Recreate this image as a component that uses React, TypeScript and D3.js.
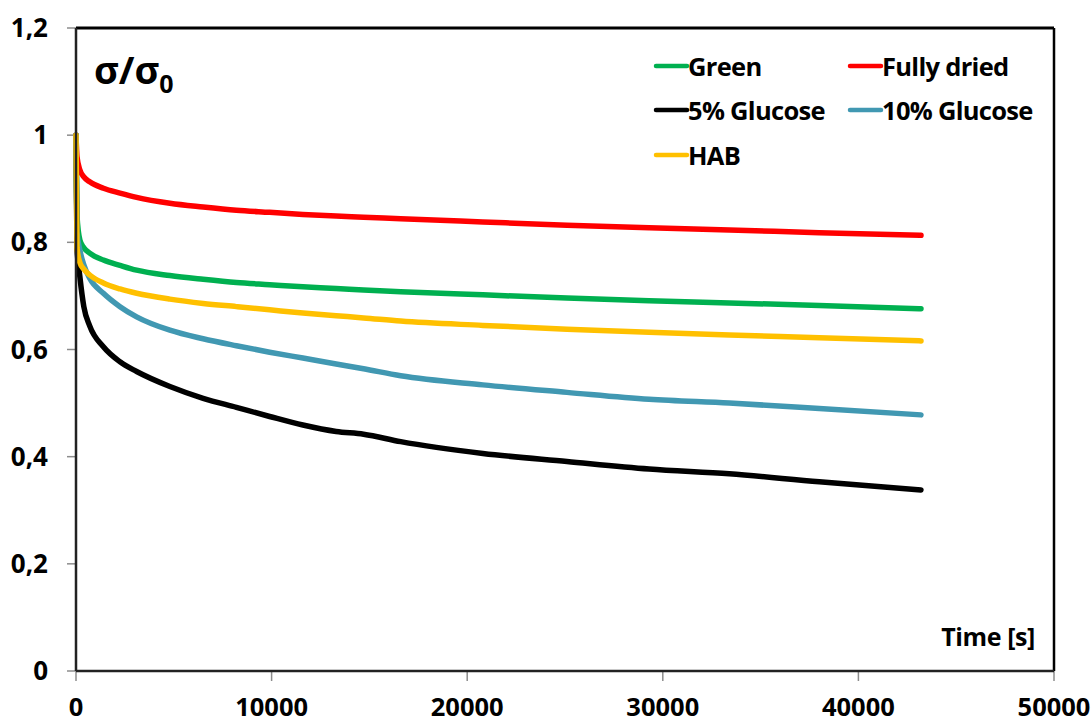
import React, { useEffect, useRef } from 'react';
import * as d3 from 'd3';

// time in seconds
const times = [0, 50, 200, 400, 700, 1400, 2250, 3100, 4800, 6500, 8200, 9900, 11600, 13300, 14700, 16600, 20800, 25100, 29300, 33400, 38000, 43200];

const green = [1, 0.85, 0.804, 0.79, 0.78, 0.767, 0.757, 0.748, 0.738, 0.731, 0.725, 0.721, 0.717, 0.714, 0.711, 0.708, 0.702, 0.696, 0.691, 0.687, 0.682, 0.676];
const fullyDried = [1, 0.96, 0.935, 0.922, 0.913, 0.901, 0.892, 0.884, 0.873, 0.866, 0.86, 0.856, 0.852, 0.849, 0.847, 0.844, 0.838, 0.832, 0.827, 0.823, 0.818, 0.813];
const glucose5 = [1, 0.79, 0.735, 0.68, 0.644, 0.605, 0.577, 0.559, 0.531, 0.509, 0.492, 0.475, 0.459, 0.447, 0.442, 0.428, 0.406, 0.391, 0.377, 0.368, 0.353, 0.338];
const glucose10 = [1, 0.82, 0.785, 0.758, 0.733, 0.705, 0.68, 0.661, 0.636, 0.62, 0.607, 0.595, 0.584, 0.573, 0.564, 0.551, 0.534, 0.52, 0.507, 0.5, 0.49, 0.478];
const hab = [1, 0.79, 0.762, 0.75, 0.739, 0.724, 0.713, 0.705, 0.694, 0.686, 0.68, 0.674, 0.668, 0.663, 0.659, 0.653, 0.645, 0.638, 0.632, 0.627, 0.622, 0.616];

const seriesNames = ['Green', 'Fully dried', '5% Glucose', '10% Glucose', 'HAB'];
const seriesColors = ['#00B050', '#FF0000', '#000000', '#4198B2', '#FFC000'];
const seriesValues = [green, fullyDried, glucose5, glucose10, hab];

const xTicks = [0, 10000, 20000, 30000, 40000, 50000];
const yTicks = [0, 0.2, 0.4, 0.6, 0.8, 1, 1.2];

const FONT = "'Open Sans', 'Noto Sans', sans-serif";

const App = () => {
    const svgRef = useRef(null);

    useEffect(() => {
        const svg = d3.select(svgRef.current);
        svg.selectAll('*').remove();

        const left = 76, right = 1054, top = 28, bottom = 671;

        const x = d3.scaleLinear().domain([0, 50000]).range([left, right]);
        const y = d3.scaleLinear().domain([0, 1.2]).range([bottom, top]);

        // ticks
        svg.append('g')
            .selectAll('line')
            .data(yTicks)
            .enter().append('line')
            .attr('x1', left - 9).attr('x2', left)
            .attr('y1', d => y(d)).attr('y2', d => y(d))
            .attr('stroke', '#8c8c8c').attr('stroke-width', 1.5);

        svg.append('g')
            .selectAll('line')
            .data(xTicks)
            .enter().append('line')
            .attr('x1', d => x(d)).attr('x2', d => x(d))
            .attr('y1', bottom).attr('y2', bottom + 10)
            .attr('stroke', '#8c8c8c').attr('stroke-width', 1.5);

        // tick labels
        svg.append('g')
            .selectAll('text')
            .data(yTicks)
            .enter().append('text')
            .attr('x', 48)
            .attr('y', d => y(d) + 9)
            .attr('text-anchor', 'end')
            .style('font-family', FONT).style('font-weight', 700).style('font-size', '26px')
            .text(d => (d === 0 || d === 1 ? String(d) : d.toFixed(1).replace('.', ',')));

        svg.append('g')
            .selectAll('text')
            .data(xTicks)
            .enter().append('text')
            .attr('x', d => x(d))
            .attr('y', 716)
            .attr('text-anchor', 'middle')
            .style('font-family', FONT).style('font-weight', 700).style('font-size', '25.5px')
            .text(d => String(d));

        // series lines
        const line = d3.line<number>()
            .x((d, i) => x(times[i]))
            .y(d => y(d))
            .curve(d3.curveMonotoneX);

        svg.append('g')
            .selectAll('path')
            .data(seriesValues)
            .enter().append('path')
            .attr('d', d => line(d))
            .attr('fill', 'none')
            .attr('stroke', (d, i) => seriesColors[i])
            .attr('stroke-width', 5.5)
            .attr('stroke-linecap', 'round')
            .attr('stroke-linejoin', 'round');

        // frame
        svg.append('line').attr('x1', left).attr('x2', right).attr('y1', top).attr('y2', top)
            .attr('stroke', '#000').attr('stroke-width', 3);
        svg.append('line').attr('x1', right).attr('x2', right).attr('y1', top).attr('y2', bottom)
            .attr('stroke', '#000').attr('stroke-width', 2.5);
        svg.append('line').attr('x1', left).attr('x2', right).attr('y1', bottom).attr('y2', bottom)
            .attr('stroke', '#222').attr('stroke-width', 2.5);
        svg.append('line').attr('x1', left).attr('x2', left).attr('y1', top).attr('y2', bottom)
            .attr('stroke', '#222').attr('stroke-width', 2.5);

        // title
        const title = svg.append('text')
            .attr('x', 94).attr('y', 84)
            .style('font-family', FONT).style('font-weight', 700).style('font-size', '38px');
        title.append('tspan').text('σ/σ');
        title.append('tspan').attr('dy', 9).style('font-size', '25px').text('0');

        // axis title
        svg.append('text')
            .attr('x', 1035).attr('y', 646)
            .attr('text-anchor', 'end')
            .style('font-family', FONT).style('font-weight', 700).style('font-size', '25px')
            .style('letter-spacing', '-0.4px')
            .text('Time [s]');

        // legend
        const legendPos = [
            { lx: 656, ly: 66 },
            { lx: 850, ly: 66 },
            { lx: 656, ly: 110 },
            { lx: 850, ly: 110 },
            { lx: 656, ly: 155 },
        ];
        const legend = svg.append('g')
            .selectAll('g')
            .data(seriesNames)
            .enter().append('g')
            .attr('transform', (d, i) => `translate(${legendPos[i].lx},${legendPos[i].ly})`);
        legend.append('line')
            .attr('x1', 0).attr('x2', 31).attr('y1', 0).attr('y2', 0)
            .attr('stroke', (d, i) => seriesColors[i])
            .attr('stroke-width', 4.5)
            .attr('stroke-linecap', 'round');
        legend.append('text')
            .attr('x', 32).attr('y', 9.5)
            .style('font-family', FONT).style('font-weight', 700).style('font-size', '25.5px')
            .style('letter-spacing', '-0.7px')
            .text(d => d);
    }, []);

    return (
        <svg ref={svgRef} width="1092" height="724"
            style={{ position: 'absolute', left: 0, top: 0, background: '#fff' }}></svg>
    );
};

export default App;
